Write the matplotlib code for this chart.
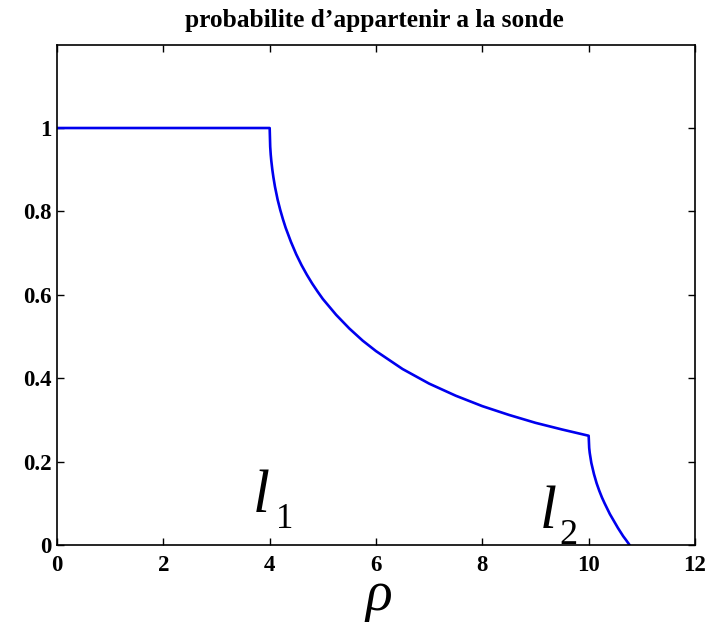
import matplotlib
matplotlib.use("Agg")
import matplotlib.pyplot as plt

plt.rcParams["mathtext.fontset"] = "custom"
plt.rcParams["mathtext.it"] = "Liberation Serif:italic"
plt.rcParams["mathtext.rm"] = "Liberation Serif"

# probability curve samples (rho, p)
rho = [0.0, 1.0, 2.0, 3.0, 4.0, 4.01, 4.02, 4.03, 4.05, 4.07, 4.1, 4.15, 4.2,
       4.25, 4.3, 4.4, 4.5, 4.6, 4.7, 4.8, 4.9, 5.0, 5.25, 5.5, 5.75, 6.0,
       6.5, 7.0, 7.5, 8.0, 8.5, 9.0, 9.5, 10.0, 10.01, 10.02, 10.05, 10.1,
       10.15, 10.2, 10.25, 10.3, 10.35, 10.4, 10.45, 10.5, 10.55, 10.6,
       10.65, 10.7, 10.77]
prob = [1.0, 1.0, 1.0, 1.0, 1.0, 0.955, 0.936, 0.922, 0.900, 0.882, 0.859,
        0.828, 0.803, 0.781, 0.761, 0.727, 0.697, 0.671, 0.648, 0.627, 0.608,
        0.590, 0.552, 0.519, 0.490, 0.465, 0.422, 0.387, 0.358, 0.333, 0.312,
        0.293, 0.277, 0.262, 0.233, 0.221, 0.197, 0.170, 0.148, 0.130, 0.114,
        0.100, 0.087, 0.074, 0.063, 0.052, 0.041, 0.031, 0.021, 0.0125, 0.0]

xticks = [0, 2, 4, 6, 8, 10, 12]
yticks = [0, 0.2, 0.4, 0.6, 0.8, 1.0]
yticklabels = ["0", "0.2", "0.4", "0.6", "0.8", "1"]

fig = plt.figure(figsize=(7.19, 6.24), dpi=100)
ax = fig.add_axes([0.0793, 0.1266, 0.8873, 0.8019])
ax.plot(rho, prob, color="#0000ee", lw=1.9)

ax.set_xlim(0, 12)
ax.set_ylim(0, 1.2)
ax.set_xticks(xticks)
ax.set_yticks(yticks)
ax.set_yticklabels(yticklabels)
ax.tick_params(direction="in", top=True, right=True, length=5, width=1,
               labelsize=16.5)
ax.tick_params(axis="x", pad=7.5)
ax.tick_params(axis="y", pad=4)
for lab in ax.get_xticklabels() + ax.get_yticklabels():
    lab.set_fontfamily("Liberation Serif")
    lab.set_fontweight("bold")
for sp in ax.spines.values():
    sp.set_linewidth(1.2)

fig.text(374 / 719, 1 - 27 / 624, "probabilite d\u2019appartenir a la sonde",
         fontfamily="Liberation Serif", fontweight="bold", fontsize=18.3,
         ha="center", va="baseline")

# labels for the two radii, subscripts set below the letter baseline
serif = "Liberation Serif"
ax.text(3.68, 0.079, "l", fontfamily=serif, fontstyle="italic",
        fontsize=44, ha="left", va="baseline")
ax.text(4.12, 0.041, "1", fontfamily=serif, fontsize=25,
        ha="left", va="baseline")
ax.text(9.08, 0.041, "l", fontfamily=serif, fontstyle="italic",
        fontsize=44, ha="left", va="baseline")
ax.text(9.44, 0.002, "2", fontfamily=serif, fontsize=26,
        ha="left", va="baseline")

# horizontal axis variable
fig.text(378 / 719, 1 - 610 / 624, r"$\rho$", fontsize=40,
         ha="center", va="baseline")

fig.savefig("out.png", dpi=100)
